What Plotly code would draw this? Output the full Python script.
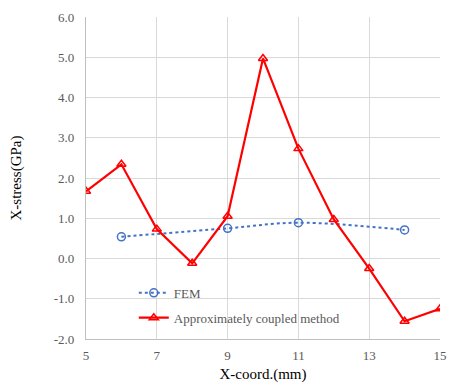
import plotly.graph_objects as go

# FEM reference solution
fem_x = [6, 9, 11, 14]
fem_y = [0.54, 0.75, 0.89, 0.71]

# Approximately coupled method
acm_x = [5, 6, 7, 8, 9, 10, 11, 12, 13, 14, 15]
acm_y = [1.67, 2.34, 0.73, -0.12, 1.05, 4.97, 2.73, 0.97, -0.25, -1.56, -1.25]

x_ticks = [5, 7, 9, 11, 13, 15]
y_ticks = [-2, -1, 0, 1, 2, 3, 4, 5, 6]

font_family = "Liberation Serif, Times New Roman, serif"

fig = go.Figure()
fig.add_trace(go.Scatter(
    x=fem_x, y=fem_y, name="FEM", mode="lines+markers", legendgroup="fem",
    line=dict(color="#4472C4", width=2, dash="dot", shape="spline"),
    marker=dict(symbol="circle-open", size=8, color="#4472C4", line=dict(width=1.5)),
))
fig.add_trace(go.Scatter(
    x=acm_x, y=acm_y, name="Approximately coupled method", mode="lines+markers",
    legendgroup="acm",
    line=dict(color="#FF0000", width=2.2),
    marker=dict(symbol="triangle-up-open", size=8, color="#FF0000", line=dict(width=1.5)),
))

fig.update_layout(
    width=457, height=389,
    margin=dict(l=86, r=10, t=13, b=50),
    paper_bgcolor="white", plot_bgcolor="white",
    font=dict(family=font_family, size=13, color="#595959"),
    showlegend=True,
    legend=dict(
        x=0.135, y=0.19, xanchor="left", yanchor="top",
        bgcolor="rgba(0,0,0,0)", font=dict(size=13, color="#595959"),
        tracegroupgap=5,
    ),
    xaxis=dict(
        range=[5, 15], tickvals=x_ticks, ticktext=[str(v) for v in x_ticks],
        showgrid=True, gridcolor="#D9D9D9", gridwidth=1.3,
        showline=True, linecolor="#BFBFBF", linewidth=1.3,
        zeroline=False, ticks="", ticklabelstandoff=4,
        title=dict(text="X-coord.(mm)", font=dict(size=15, color="#000000"), standoff=6),
    ),
    yaxis=dict(
        range=[-2, 6], tickvals=y_ticks, ticktext=[f"{v:.1f}" for v in y_ticks],
        showgrid=True, gridcolor="#D9D9D9", gridwidth=1.3,
        showline=True, linecolor="#BFBFBF", linewidth=1.3,
        zeroline=False, ticks="", ticklabelstandoff=8,
        title=dict(text="X-stress(GPa)", font=dict(size=15, color="#000000"), standoff=28),
    ),
)

fig.write_html("out.html")
